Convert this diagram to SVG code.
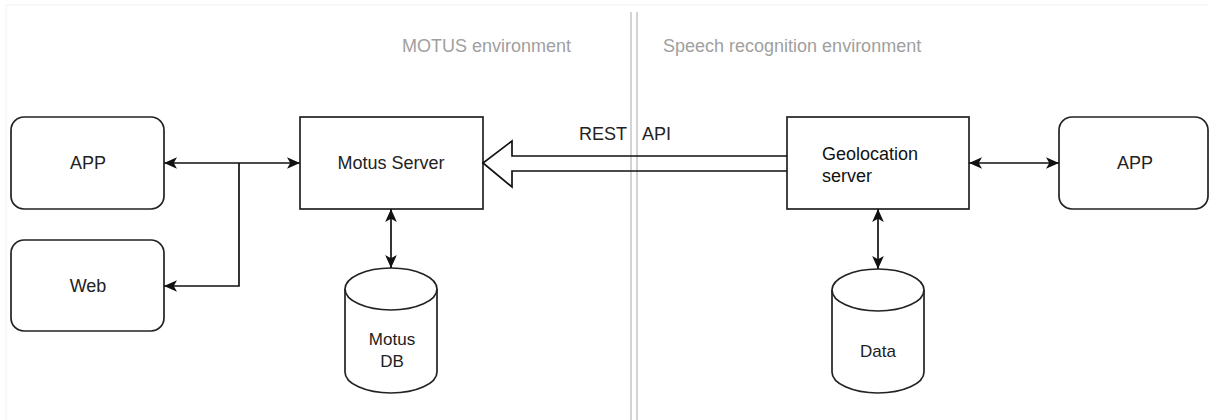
<svg xmlns="http://www.w3.org/2000/svg" width="1209" height="420" viewBox="0 0 1209 420">
<style>
.box{fill:#fff;stroke:#222;stroke-width:1.7}
.lbl{font-family:"Liberation Sans",Arial,sans-serif;font-size:18px;fill:#222;text-anchor:middle}
.hdr{font-family:"Liberation Sans",Arial,sans-serif;font-size:18px;fill:#a0a0a0}
.conn{fill:none;stroke:#111;stroke-width:1.7}
.div{stroke:#c8c8c8;stroke-width:1.6}
</style>
<defs>
<marker id="arr" markerUnits="userSpaceOnUse" markerWidth="13" markerHeight="13" refX="10" refY="5" orient="auto-start-reverse" viewBox="0 0 10 10">
<path d="M0,0.5 L10,5 L0,9.5 L2.5,5 z" fill="#111"/>
</marker>
</defs>
<rect width="1209" height="420" fill="#fff"/>
<path d="M6,420 V5 H1209" fill="none" stroke="#f2f2f2" stroke-width="1"/>
<g id="divider">
<line class="div" x1="631" y1="12" x2="631" y2="420"/>
<line class="div" x1="637" y1="12" x2="637" y2="420"/>
</g>
<g id="headers">
<text class="hdr" x="402" y="52">MOTUS environment</text>
<text class="hdr" x="663" y="52">Speech recognition environment</text>
</g>
<g id="app-left">
<rect class="box" x="11" y="117" width="153" height="92" rx="13"/>
<text class="lbl" x="88" y="169">APP</text>
</g>
<g id="web">
<rect class="box" x="11" y="240" width="153" height="91" rx="13"/>
<text class="lbl" x="88" y="292">Web</text>
</g>
<g id="motus-server">
<rect class="box" x="300" y="117" width="183" height="92"/>
<text class="lbl" x="391" y="169">Motus Server</text>
</g>
<g id="motus-db">
<path class="box" d="M345,289 V372 A46,21 0 0 0 437,372 V289"/>
<ellipse class="box" cx="391" cy="289" rx="46" ry="21"/>
<text class="lbl" x="392" y="345" style="font-size:17px">Motus</text>
<text class="lbl" x="392" y="367" style="font-size:17px">DB</text>
</g>
<g id="geolocation-server">
<rect class="box" x="787" y="117" width="182" height="92"/>
<text class="lbl" x="822" y="160" style="text-anchor:start;fill:#111">Geolocation</text>
<text class="lbl" x="822" y="182" style="text-anchor:start;fill:#111">server</text>
</g>
<g id="app-right">
<rect class="box" x="1059" y="117" width="149" height="92" rx="13"/>
<text class="lbl" x="1135" y="169">APP</text>
</g>
<g id="data">
<path class="box" d="M832,290 V372 A46,21 0 0 0 924,372 V290"/>
<ellipse class="box" cx="878" cy="290" rx="46" ry="21"/>
<text class="lbl" x="878" y="357" style="font-size:17px">Data</text>
</g>
<g id="connectors">
<line class="conn" x1="164" y1="163" x2="300" y2="163" marker-start="url(#arr)" marker-end="url(#arr)"/>
<path class="conn" d="M239,163 V286 H164" marker-end="url(#arr)"/>
<line class="conn" x1="391" y1="209" x2="391" y2="268" marker-start="url(#arr)" marker-end="url(#arr)"/>
<line class="conn" x1="969" y1="163" x2="1059" y2="163" marker-start="url(#arr)" marker-end="url(#arr)"/>
<line class="conn" x1="878" y1="209" x2="878" y2="269" marker-start="url(#arr)" marker-end="url(#arr)"/>
<path class="conn" d="M787,156 H512 V141 L483,163 L512,187 V171 H787"/>
<text class="lbl" style="text-anchor:start"><tspan x="579" y="140">REST</tspan><tspan x="642" y="140">API</tspan></text>
</g>
</svg>
